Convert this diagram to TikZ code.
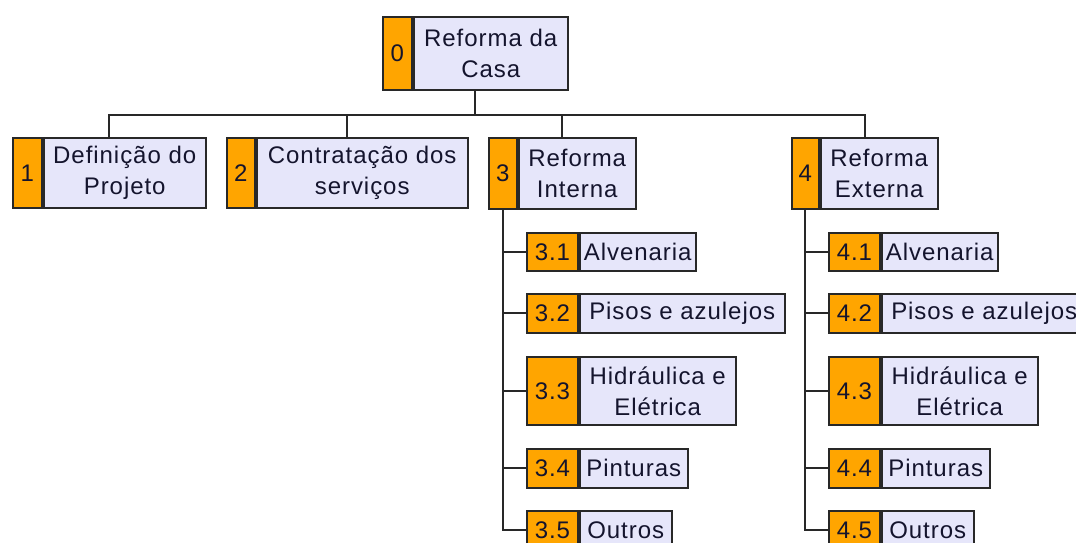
\documentclass[tikz,border=0pt]{standalone}
\usepackage{fontspec}
\setmainfont{Liberation Sans}[LetterSpace=4]
\usetikzlibrary{fit,calc}
\definecolor{wbsorange}{RGB}{255,165,0}
\definecolor{wbslav}{RGB}{230,230,250}
\definecolor{wbsline}{RGB}{40,40,40}
\definecolor{wbstext}{RGB}{20,20,45}
\newcommand\wbsbox[8]{%
  \node[numbox, minimum width=#4pt, minimum height=#6pt] (#1n) at (#2,-#3) {#7};
  \node[labbox, minimum width=#5pt, minimum height=#6pt] (#1t) at (#1n.north east) {#8};
  \node[grp, fit=(#1n)(#1t)] (#1) {};
}
\begin{document}
\begin{tikzpicture}[x=1pt,y=1pt,
  numbox/.style={draw=wbsline, fill=wbsorange, line width=1.8pt, inner sep=0pt,
    anchor=north west, text=wbstext, font=\fontsize{24}{31}\selectfont},
  labbox/.style={draw=wbsline, fill=wbslav, line width=1.8pt, inner sep=0pt,
    anchor=north west, align=center, text=wbstext, font=\fontsize{24}{31}\selectfont},
  conn/.style={draw=wbsline, line width=2pt},
  grp/.style={inner sep=0pt}
]
\useasboundingbox (0,0) rectangle (1076,-543);
\clip (0,0) rectangle (1076,-543);

\wbsbox{b0}{382}{16}{29}{154}{73}{0}{Reforma da\\Casa}
\wbsbox{b1}{12}{137}{29}{162}{70}{1}{Definição do\\Projeto}
\wbsbox{b2}{226}{137}{28}{211}{70}{2}{Contratação dos\\serviços}
\wbsbox{b3}{488}{137}{28}{117}{71}{3}{Reforma\\Interna}
\wbsbox{b4}{791}{137}{27}{117}{71}{4}{Reforma\\Externa}

\wbsbox{b31}{526}{232}{51}{116}{38}{3.1}{Alvenaria}
\wbsbox{b32}{526}{293}{51}{205}{39}{3.2}{Pisos e azulejos}
\wbsbox{b33}{526}{356}{51}{156}{68}{3.3}{Hidráulica e\\Elétrica}
\wbsbox{b34}{526}{448}{51}{108}{39}{3.4}{Pinturas}
\wbsbox{b35}{526}{510}{51}{92}{39}{3.5}{Outros}

\wbsbox{b41}{828}{232}{51}{116}{38}{4.1}{Alvenaria}
\wbsbox{b42}{828}{293}{51}{205}{39}{4.2}{Pisos e azulejos}
\wbsbox{b43}{828}{356}{51}{156}{68}{4.3}{Hidráulica e\\Elétrica}
\wbsbox{b44}{828}{448}{51}{108}{39}{4.4}{Pinturas}
\wbsbox{b45}{828}{510}{51}{92}{39}{4.5}{Outros}

\coordinate (bus) at ($(b0.south)+(0,-24)$);
\foreach \c in {b1,b2,b3,b4}{
  \draw[conn] (b0.south) -- (bus) -| (\c.north);
}
\foreach \c in {b31,b32,b33,b34,b35}{
  \draw[conn] (b3n.south) |- (\c n.west);
}
\foreach \c in {b41,b42,b43,b44,b45}{
  \draw[conn] (b4n.south) |- (\c n.west);
}
\end{tikzpicture}
\end{document}
